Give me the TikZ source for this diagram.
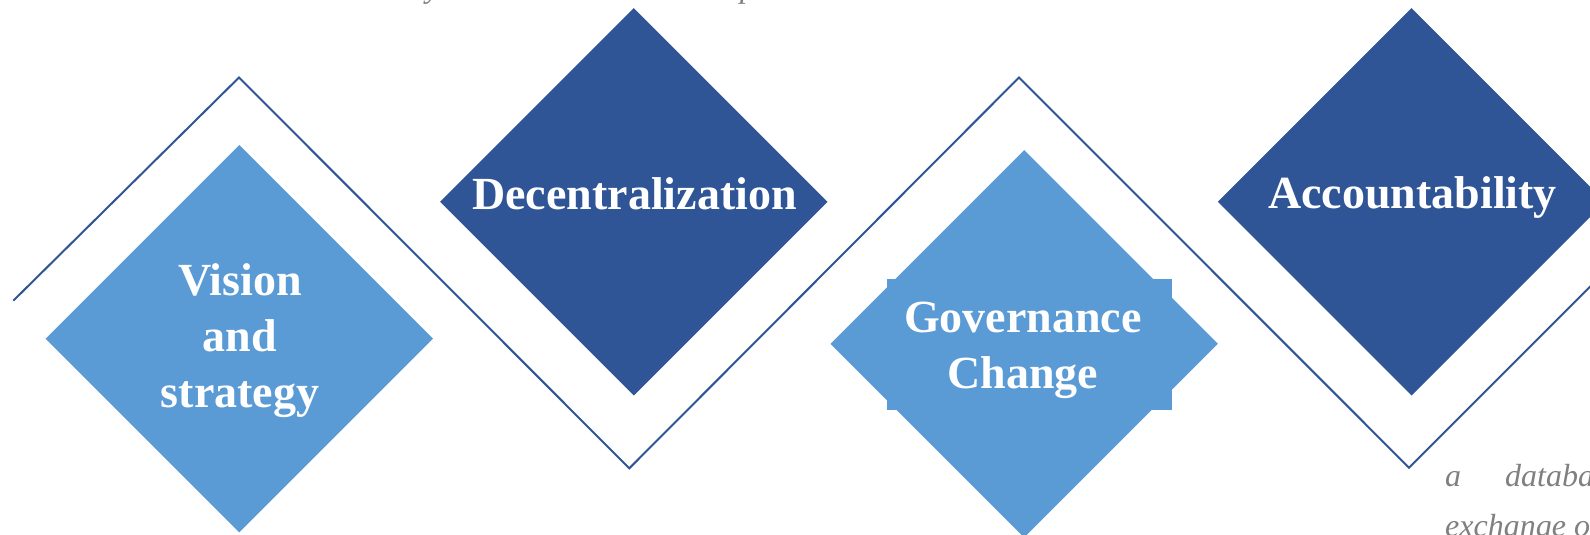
\documentclass[tikz,border=0pt]{standalone}
\usepackage{fontspec}
\setmainfont{Liberation Serif}
\usetikzlibrary{shapes.geometric}
\definecolor{lightblu}{HTML}{5B9BD5}
\definecolor{darkblu}{HTML}{2F5597}
\definecolor{greytxt}{HTML}{808080}
\tikzset{
  dia/.style={diamond, inner sep=0pt, outer sep=0pt, minimum width=387.4pt, minimum height=387.4pt},
  lightdia/.style={dia, fill=lightblu},
  darkdia/.style={dia, fill=darkblu},
  label/.style={text=white, font=\fontsize{46}{56}\selectfont\bfseries, align=center, inner sep=0pt},
  zig/.style={draw=darkblu, line width=2pt, line join=miter},
  bodytxt/.style={text=greytxt, font=\fontsize{32}{40}\selectfont\itshape, inner sep=0pt, anchor=base west}
}
\begin{document}
\begin{tikzpicture}[x=1pt,y=-1pt]
\useasboundingbox (0,0) rectangle (1590,535);
\clip (0,0) rectangle (1590,535);
\fill[white] (0,0) rectangle (1590,535);
% zigzag line
\coordinate (z0) at (13.3,300.7);
\coordinate (z1) at (239,77.5);
\coordinate (z2) at (629.3,468.3);
\coordinate (z3) at (1019,77.5);
\coordinate (z4) at (1409,467.7);
\coordinate (z5) at (1650,226.7);
\draw[zig] (z0) -- (z1) -- (z2) -- (z3) -- (z4) -- (z5);
% diamonds
\node[lightdia] (vis) at (239.3,338.7) {};
\node[darkdia] (dec) at (633.8,201.8) {};
\node[lightdia] (gov) at (1024.2,343.8) {};
\node[darkdia] (acc) at (1411.5,201.8) {};
\node[fill=lightblu, inner sep=0pt, minimum width=285.3pt, minimum height=131pt] (govbox) at (1029.4,344.5) {};
% labels
\node[label] (visT) at (240,341) {Vision\\and\\strategy};
\node[label] (decT) at (634.5,193.7) {Decentralization};
\node[label] (govT) at (1023,350) {Governance\\Change};
\node[label] (accT) at (1412.5,197.7) {Accountability};
% cut-off body text
\node[bodytxt] (ty) at (426,-2) {y};
\node[bodytxt] (tp) at (740,-2) {p};
\node[bodytxt] (ta) at (1445,486.7) {a};
\node[bodytxt] (tdb) at (1505,486.7) {database};
\node[bodytxt] (tex) at (1445,536) {exchange of};
\end{tikzpicture}
\end{document}
